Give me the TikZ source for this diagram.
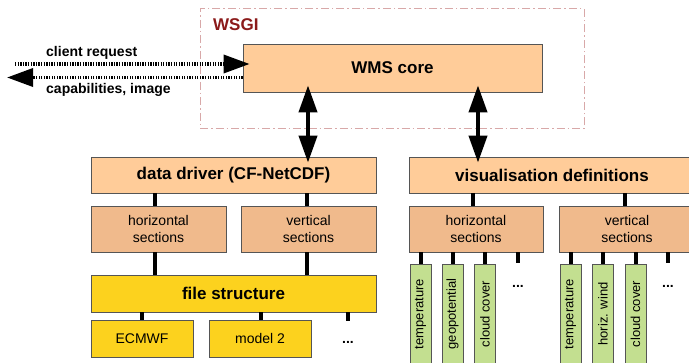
\documentclass[tikz,border=0pt]{standalone}
\usepackage{fontspec}
\setmainfont{Liberation Sans}
\usetikzlibrary{arrows.meta}
\definecolor{peach}{HTML}{FFCC99}
\definecolor{subpeach}{HTML}{F0BA8C}
\definecolor{fileyellow}{HTML}{FCD21E}
\definecolor{barsgreen}{HTML}{C3DF90}
\definecolor{boxline}{HTML}{555555}
\definecolor{wsgiline}{HTML}{D8A8A8}
\definecolor{wsgitext}{HTML}{8B1A1A}
\tikzset{
  box/.style={draw=boxline, line width=0.8pt, rectangle, inner sep=0pt, text=black},
  headbox/.style={box, fill=peach, font=\fontsize{17}{20}\selectfont\bfseries},
  secbox/.style={box, fill=subpeach, align=center, font=\fontsize{14}{17.5}\selectfont, minimum height=46pt},
  filebox/.style={box, fill=fileyellow},
  barbox/.style={box, fill=barsgreen, rotate=90, minimum width=100pt, minimum height=21pt, font=\fontsize{13}{15}\selectfont},
  conn/.style={line width=4pt, black},
  dblarrow/.style={line width=4pt, black, {Triangle[length=27pt,width=18pt]}-{Triangle[length=27pt,width=18pt]}},
  dotarrow/.style={line width=3.5pt, black, dash pattern=on 1.3pt off 1.3pt, -{Triangle[length=26pt,width=18pt]}},
  wsgibox/.style={draw=wsgiline, line width=1pt, dash pattern=on 8pt off 3pt on 1.5pt off 3pt},
  arrowlabel/.style={font=\fontsize{14}{17}\selectfont\bfseries, inner sep=0pt},
  dots/.style={font=\fontsize{14}{17}\selectfont\bfseries, inner sep=0pt}
}
\begin{document}
\begin{tikzpicture}[x=1pt,y=-1pt]
\clip (0,0) rectangle (689,363);
\fill[white] (0,0) rectangle (689,363);

% WSGI frame
\node[wsgibox, minimum width=384pt, minimum height=120pt, inner sep=0pt] (wsgi) at (392,69) {};
\node[anchor=west, inner sep=0pt, text=wsgitext, font=\fontsize{17}{20}\selectfont\bfseries] (wsgilabel) at (213,24.5) {WSGI};

% main boxes
\node[headbox, minimum width=299pt, minimum height=48pt] (wms) at (392.5,68) {WMS core};
\node[headbox, minimum width=285pt, minimum height=36pt] (dd) at (233.5,175) {data driver (CF-NetCDF)};
\node[headbox, minimum width=286pt, minimum height=36pt] (vd) at (552,175) {visualisation definitions};

\node[secbox, minimum width=135pt] (hs1) at (158.5,229) {horizontal\\sections};
\node[secbox, minimum width=135pt] (vs1) at (308.5,229) {vertical\\sections};
\node[secbox, minimum width=134pt] (hs2) at (476,229) {horizontal\\sections};
\node[secbox, minimum width=136pt] (vs2) at (627,229) {vertical\\sections};

\node[filebox, minimum width=285pt, minimum height=37pt, font=\fontsize{17}{20}\selectfont\bfseries] (fs) at (233.5,293.5) {file structure};
\node[filebox, minimum width=102pt, minimum height=37pt, font=\fontsize{14}{17}\selectfont] (ecmwf) at (142,338.5) {ECMWF};
\node[filebox, minimum width=102pt, minimum height=37pt, font=\fontsize{14}{17}\selectfont] (m2) at (260,338.5) {model 2};
\node[dots, anchor=base] (fdots) at (348,344) {...};
\coordinate (fdotsTop) at (348,321);

% green bars
\node[barbox] (g1) at (420.5,314) {temperature};
\node[barbox] (g2) at (452.5,314) {geopotential};
\node[barbox] (g3) at (485,314) {cloud cover};
\node[dots, anchor=base] (hdots) at (518,288) {...};
\coordinate (hdotsTop) at (518,263);
\node[barbox] (g4) at (570.5,314) {temperature};
\node[barbox] (g5) at (603,314) {horiz. wind};
\node[barbox] (g6) at (635.5,314) {cloud cover};
\node[dots, anchor=base] (vdots) at (668,288) {...};
\coordinate (vdotsTop) at (668,263);

% connectors
\draw[conn] (dd.south -| 155,0) -- (hs1.north -| 155,0);
\draw[conn] (dd.south -| 307,0) -- (vs1.north -| 307,0);
\draw[conn] (hs1.south -| 155,0) -- (fs.north -| 155,0);
\draw[conn] (vs1.south -| 307,0) -- (fs.north -| 307,0);
\draw[conn] (fs.south -| ecmwf.north) -- (ecmwf.north);
\draw[conn] (fs.south -| 261,0) -- (m2.north -| 261,0);
\draw[conn] (fs.south -| fdotsTop) -- (fdotsTop);

\draw[conn] (vd.south -| 473,0) -- (hs2.north -| 473,0);
\draw[conn] (vd.south -| 625,0) -- (vs2.north -| 625,0);
\draw[conn] (hs2.south -| g1.east) -- (g1.east);
\draw[conn] (hs2.south -| g2.east) -- (g2.east);
\draw[conn] (hs2.south -| g3.east) -- (g3.east);
\draw[conn] (hs2.south -| hdotsTop) -- (hdotsTop);
\draw[conn] (vs2.south -| g4.east) -- (g4.east);
\draw[conn] (vs2.south -| g5.east) -- (g5.east);
\draw[conn] (vs2.south -| g6.east) -- (g6.east);
\draw[conn] (vs2.south -| vdotsTop) -- (vdotsTop);

% double arrows
\draw[dblarrow, shorten <=-7pt, shorten >=-6pt] (wms.south -| 308,0) -- (dd.north -| 308,0);
\draw[dblarrow, shorten <=-7pt, shorten >=-6pt] (wms.south -| 478,0) -- (vd.north -| 478,0);

% client arrows
\coordinate (crL) at (15,64);
\coordinate (capL) at (7,77.5);
\draw[dotarrow, shorten >=-7pt] (crL) -- (wms.west |- crL);
\draw[dotarrow] (wms.west |- capL) -- (capL);
\node[arrowlabel, anchor=base west] (crlabel) at (46,56.5) {client request};
\node[arrowlabel, anchor=base west] (caplabel) at (46,93.5) {capabilities, image};
\end{tikzpicture}
\end{document}
